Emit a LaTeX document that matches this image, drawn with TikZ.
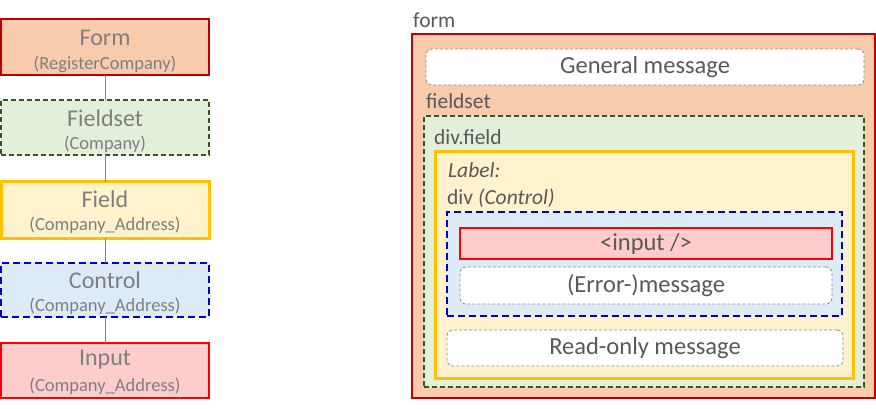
\documentclass[tikz,border=0pt]{standalone}
\usepackage{fontspec}
\setmainfont{Carlito}
\definecolor{formfill}{HTML}{F8CBAD}
\definecolor{formred}{HTML}{C00000}
\definecolor{fsfill}{HTML}{E2EFDA}
\definecolor{fsgreen}{HTML}{375623}
\definecolor{fieldfill}{HTML}{FFF2CC}
\definecolor{fieldyellow}{HTML}{FFC000}
\definecolor{ctrlfill}{HTML}{DDEBF7}
\definecolor{ctrlblue}{HTML}{0000CC}
\definecolor{infill}{HTML}{FFCCCC}
\definecolor{inred}{HTML}{FF0000}
\definecolor{lefttext}{HTML}{7F7F7F}
\definecolor{righttext}{HTML}{595959}
\definecolor{msgborder}{HTML}{8C8C8C}
\begin{document}
\begin{tikzpicture}[x=1pt,y=-1pt,
  boxbase/.style={anchor=north west,inner sep=0pt,outer sep=0pt},
  formbox/.style={boxbase,fill=formfill,draw=formred,line width=2pt},
  fsbox/.style={boxbase,fill=fsfill,draw=fsgreen,dashed,dash pattern=on 5pt off 3pt,line width=1.5pt},
  fieldbox/.style={boxbase,fill=fieldfill,draw=fieldyellow,line width=3pt},
  ctrlbox/.style={boxbase,fill=ctrlfill,draw=ctrlblue,dash pattern=on 7pt off 4pt,line width=2pt},
  inbox/.style={boxbase,fill=infill,draw=inred,line width=2pt},
  msgbox/.style={boxbase,fill=white,draw=msgborder,dash pattern=on 3pt off 2pt,line width=0.8pt,rounded corners=6pt},
  ttl/.style={text=lefttext,font=\fontsize{24}{24}\selectfont,inner sep=0pt},
  sub/.style={text=lefttext,font=\fontsize{18.5}{18.5}\selectfont,inner sep=0pt},
  lbl/.style={text=righttext,font=\fontsize{21.5}{21.5}\selectfont,inner sep=0pt,anchor=west},
  msg/.style={text=righttext,font=\fontsize{24.5}{24.5}\selectfont,inner sep=0pt},
  conn/.style={draw=gray,line width=1pt}
]
\useasboundingbox (0,0) rectangle (876,409);
% ---------- left column ----------
\node[formbox,minimum width=208pt,minimum height=56pt] (lform) at (1,19) {};
\node[fsbox,minimum width=208pt,minimum height=55pt] (lfs) at (1,100) {};
\node[fieldbox,minimum width=208pt,minimum height=56pt] (lfield) at (1,182) {};
\node[ctrlbox,minimum width=208pt,minimum height=54pt] (lctrl) at (1,263) {};
\node[inbox,minimum width=208pt,minimum height=55pt] (linput) at (1,343) {};
\draw[conn] (lform.south) -- (lfs.north);
\draw[conn] (lfs.south) -- (lfield.north);
\draw[conn] (lfield.south) -- (lctrl.north);
\draw[conn] (lctrl.south) -- (linput.north);
\node[ttl] (tform) at (105,38) {Form};
\node[sub] (sform) at (105,64) {(RegisterCompany)};
\node[ttl] (tfs) at (105,118) {Fieldset};
\node[sub] (sfs) at (105,144) {(Company)};
\node[ttl] (tfield) at (105,199) {Field};
\node[sub] (sfield) at (105,225) {(Company\_Address)};
\node[ttl] (tctrl) at (105,280) {Control};
\node[sub] (sctrl) at (105,306) {(Company\_Address)};
\node[ttl] (tinput) at (105,360) {Input};
\node[sub] (sinput) at (105,386) {(Company\_Address)};
% ---------- right nesting ----------
\node[lbl] (lblform) at (413,20) {form};
\node[formbox,minimum width=463pt,minimum height=364pt] (rform) at (412,34) {};
\node[msgbox,minimum width=438pt,minimum height=36pt] (genmsg) at (426,49) {};
\node[msg] (genmsgt) at (genmsg.center) {General message};
\node[lbl] (lblfs) at (426,101) {fieldset};
\node[fsbox,minimum width=440pt,minimum height=271pt] (rfs) at (424,116) {};
\node[lbl] (lbldiv) at (434,137) {div.field};
\node[fieldbox,minimum width=418pt,minimum height=226pt] (rfield) at (435,152) {};
\node[lbl] (lbllabel) at (448,170) {\itshape Label:};
\node[lbl] (lblctrl) at (447,198) {div \itshape(Control)};
\node[ctrlbox,minimum width=395pt,minimum height=104pt] (rctrl) at (447,212) {};
\node[inbox,minimum width=372pt,minimum height=31pt] (rinput) at (460,228) {};
\node[msg] (rinputt) at (rinput.center) {<input />};
\node[msgbox,minimum width=372pt,minimum height=37pt] (errmsg) at (460,267) {};
\node[msg] (errmsgt) at (errmsg.center) {(Error-)message};
\node[msgbox,minimum width=396pt,minimum height=36pt] (romsg) at (447,330) {};
\node[msg] (romsgt) at (romsg.center) {Read-only message};
\end{tikzpicture}
\end{document}
